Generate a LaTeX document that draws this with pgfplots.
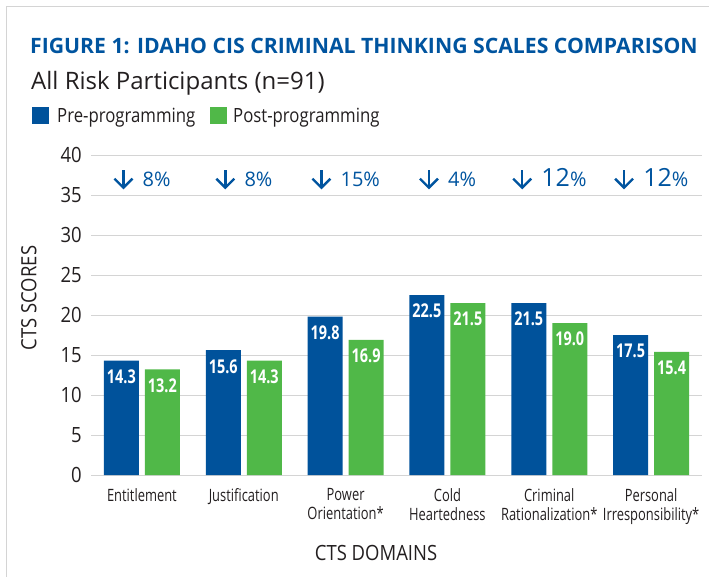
\documentclass[border=0pt]{standalone}
\usepackage{pgfplots}
\pgfplotsset{compat=1.18}
\usepackage{pgfplotstable}
\usepackage{fontspec}
\setmainfont{Open Sans}
\newfontfamily\condfont[FakeStretch=0.76]{Open Sans}
\newfontfamily\legfont[FakeStretch=0.855]{Open Sans}
\newfontfamily\semifont[FakeStretch=0.88]{Open Sans}
\definecolor{preblue}{RGB}{0,82,155}
\definecolor{postgreen}{RGB}{80,184,72}
\definecolor{titleblue}{RGB}{0,84,159}
\definecolor{txt}{RGB}{35,31,32}
\definecolor{gridgray}{RGB}{212,212,212}

\pgfplotstableread{
idx pre post
0 14.3 13.2
1 15.6 14.3
2 19.8 16.9
3 22.5 21.5
4 21.5 19.0
5 17.5 15.4
}\ctsdata

\newsavebox\arrowbox

\begin{document}
\sbox\arrowbox{\begin{tikzpicture}[baseline=0pt]
\draw[titleblue, line width=2.4pt, line join=miter] (-9pt,7.5pt) -- (0pt,-1.5pt) -- (9pt,7.5pt);
\draw[titleblue, line width=2.4pt] (0pt,-0.5pt) -- (0pt,16pt);
\end{tikzpicture}}%
\begin{tikzpicture}
\useasboundingbox (0pt,0pt) rectangle (709pt,-577pt);
\draw[gridgray, line width=1pt] (6pt,-577pt) -- (6pt,-7pt) -- (709pt,-7pt);
\node[anchor=base west, inner sep=0pt, text=titleblue, font=\fontsize{21.2}{25}\selectfont\bfseries] at (30pt,-53.3pt) {FIGURE 1: IDAHO CIS CRIMINAL THINKING SCALES COMPARISON};
\node[anchor=base west, inner sep=0pt, text=txt, font=\fontsize{24}{28}\selectfont] at (31pt,-90pt) {All Risk Participants (n=91)};
\fill[preblue] (32pt,-107pt) rectangle (49pt,-124pt);
\node[anchor=base west, inner sep=0pt, text=txt, font=\fontsize{19.6}{22}\legfont] at (57pt,-123pt) {Pre-programming};
\fill[postgreen] (210pt,-107pt) rectangle (227pt,-124pt);
\node[anchor=base west, inner sep=0pt, text=txt, font=\fontsize{19.6}{22}\legfont] at (233pt,-123pt) {Post-programming};

\begin{axis}[
  at={(91pt,-475pt)}, anchor=south west,
  scale only axis, width=611pt, height=320pt,
  xmin=-0.5, xmax=5.5, ymin=0, ymax=40,
  ybar=6pt, bar width=35pt,
  axis line style={draw=none},
  ymajorgrids, grid style={gridgray, line width=1pt},
  ytick={0,5,...,40},
  xtick={0,...,5},
  xticklabels={Entitlement, Justification, {Power\\Orientation*}, {Cold\\Heartedness}, {Criminal\\Rationalization*}, {Personal\\Irresponsibility*}},
  tick style={draw=none},
  /pgf/number format/assume math mode=true,
  yticklabel style={font=\fontsize{21}{21}\semifont, text=txt, inner sep=0pt, xshift=-9pt},
  xticklabel style={font=\fontsize{17}{19}\condfont, text=txt, align=center, inner sep=0pt, anchor=north, yshift=-9pt},
  ylabel={CTS SCORES}, xlabel={CTS DOMAINS},
  every axis y label/.style={at={(axis description cs:-0.1015,0.553)}, rotate=90, anchor=center, font=\fontsize{21}{21}\semifont, text=txt},
  every axis x label/.style={at={(axis description cs:0.4665,-0.244)}, anchor=center, font=\fontsize{21}{21}\semifont, text=txt},
  nodes near coords={\pgfmathprintnumber[fixed,fixed zerofill,precision=1,assume math mode=true]{\pgfplotspointmeta}},
  every node near coord/.append style={anchor=north, yshift=-9pt, inner sep=0pt, font=\fontsize{19}{19}\condfont\bfseries, text=white},
  clip=false,
]
\addplot[fill=preblue, draw=none] table[x=idx, y=pre] {\ctsdata};
\addplot[fill=postgreen, draw=none] table[x=idx, y=post] {\ctsdata};
\node[text=titleblue, font=\fontsize{20}{20}\selectfont, anchor=base] at (axis cs:0,36.1) {\usebox\arrowbox\hspace{9pt}8\%};
\node[text=titleblue, font=\fontsize{20}{20}\selectfont, anchor=base] at (axis cs:1,36.1) {\usebox\arrowbox\hspace{9pt}8\%};
\node[text=titleblue, font=\fontsize{20}{20}\selectfont, anchor=base] at (axis cs:2,36.1) {\usebox\arrowbox\hspace{9pt}15\%};
\node[text=titleblue, font=\fontsize{20}{20}\selectfont, anchor=base] at (axis cs:3,36.1) {\usebox\arrowbox\hspace{9pt}4\%};
\node[text=titleblue, font=\fontsize{20}{20}\selectfont, anchor=base] at (axis cs:4,36.1) {\usebox\arrowbox\hspace{9pt}{\fontsize{25}{25}\selectfont 12}\%};
\node[text=titleblue, font=\fontsize{20}{20}\selectfont, anchor=base] at (axis cs:5,36.1) {\usebox\arrowbox\hspace{9pt}{\fontsize{25}{25}\selectfont 12}\%};
\end{axis}
\end{tikzpicture}
\end{document}
